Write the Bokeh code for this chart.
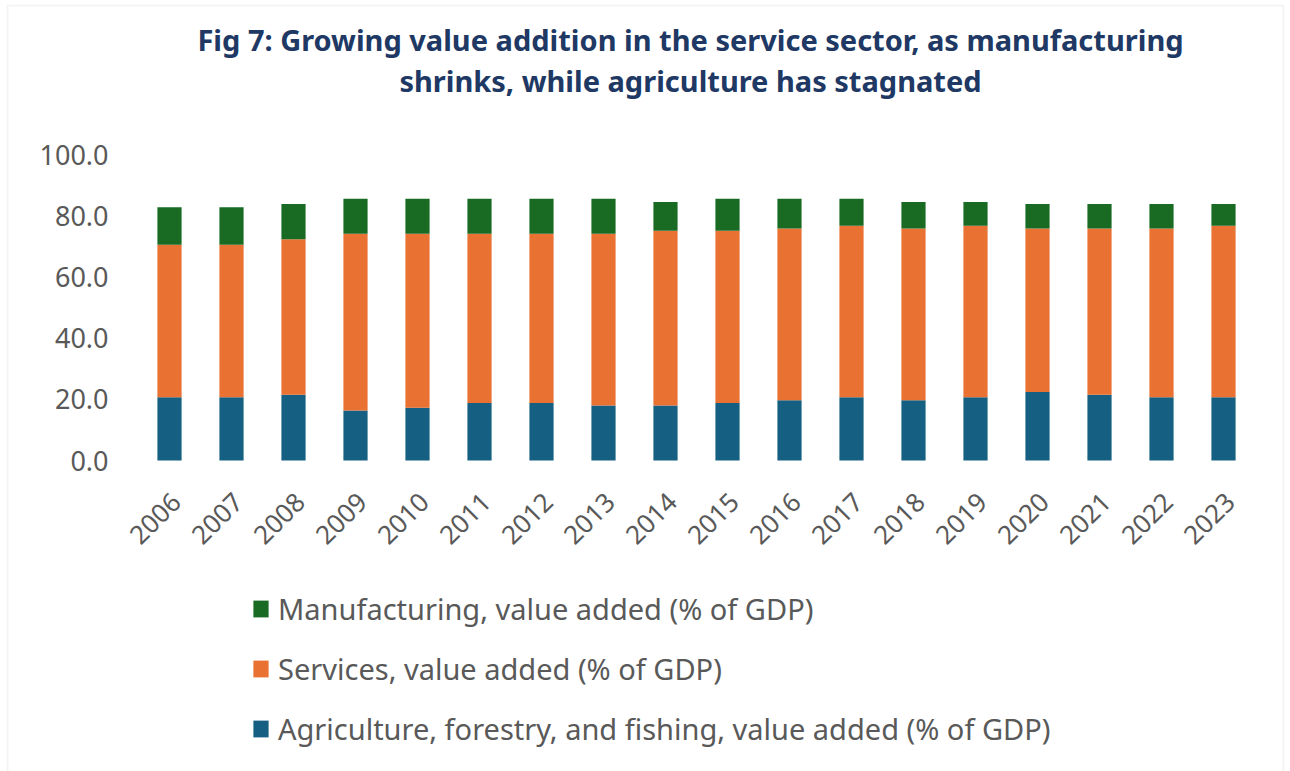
import math
from bokeh.plotting import figure
from bokeh.models import (Range1d, Legend, LegendItem, Label, FixedTicker,
                          BoxAnnotation)
from bokeh.core.properties import value
from bokeh.embed import file_html
from bokeh.resources import INLINE

years = [str(y) for y in range(2006, 2024)]
agriculture = [20.7, 20.7, 21.5, 16.3, 17.2, 18.8, 18.8, 18.0, 18.0,
               18.8, 19.7, 20.7, 19.7, 20.7, 22.4, 21.5, 20.7, 20.7]
services = [49.8, 49.8, 50.8, 57.8, 56.9, 55.3, 55.3, 56.1, 57.1,
            56.3, 56.1, 56.0, 56.1, 56.0, 53.4, 54.3, 55.1, 56.0]
manufacturing = [12.3, 12.3, 11.5, 11.4, 11.4, 11.4, 11.4, 11.4, 9.4,
                 10.4, 9.7, 8.8, 8.7, 7.8, 8.0, 8.0, 8.0, 7.1]
y_ticks = [0, 20, 40, 60, 80, 100]
y_tick_labels = ["0.0", "20.0", "40.0", "60.0", "80.0", "100.0"]
series_names = ["Agriculture, forestry, and fishing, value added (% of GDP)",
                "Services, value added (% of GDP)",
                "Manufacturing, value added (% of GDP)"]
title_lines = ["Fig 7: Growing value addition in the service sector, as manufacturing",
               "shrinks, while agriculture has stagnated"]
colors = ["#156082", "#E97132", "#196B24"]

FONT = "Noto Sans"
GREY = "#595959"
W, H = 1290, 771

# category positions along x (index of each year)
xs = list(range(len(years)))

# the frame fills the whole canvas; ranges chosen so that the plotting
# region sits where the reference draws it
px_per_cat = 62.0
first_px = 169.0
px_per_unit = 3.06
zero_px = 460.0
x_range = Range1d((0 - first_px) / px_per_cat, (W - first_px) / px_per_cat)
y_range = Range1d(-(H - zero_px) / px_per_unit, zero_px / px_per_unit)

p = figure(width=W, height=H, x_range=x_range, y_range=y_range,
           output_backend="svg", toolbar_location=None,
           x_axis_type=None, y_axis_type=None,
           min_border=0, min_border_left=0, min_border_right=0,
           min_border_top=0, min_border_bottom=0)
p.outline_line_color = None
p.background_fill_color = "white"
p.border_fill_color = "white"
p.xgrid.grid_line_color = None

# horizontal gridlines spanning the categories
p.ygrid.ticker = FixedTicker(ticks=y_ticks)
p.ygrid.grid_line_color = "#d9d9d9"
p.ygrid.grid_line_width = 1.5
p.ygrid.bounds = (-0.5, len(years) - 0.5)

data = dict(x=xs, year=years, agri=agriculture, serv=services, manu=manufacturing)
rs = p.vbar_stack(["agri", "serv", "manu"], x="x", width=0.39, color=colors,
                  line_color=None, source=data)

# y tick labels
p.text(x=[-0.5] * len(y_ticks), y=y_ticks, text=y_tick_labels,
       x_offset=-30, text_align="right", text_baseline="middle",
       text_font=value(FONT), text_font_size=value("27px"), text_color=GREY)

# x tick labels, rotated 45 degrees
p.text(x=xs, y=[0] * len(xs), text=years, angle=math.pi / 4,
       x_offset=7, y_offset=37, text_align="right", text_baseline="middle",
       text_font=value(FONT), text_font_size=value("26px"), text_color=GREY)

# title
for line, base in zip(title_lines, [39, 80]):
    p.add_layout(Label(x=690, y=H - base, x_units="screen", y_units="screen",
                       text=line, text_align="center",
                       text_baseline="alphabetic", text_font=FONT,
                       text_font_size="29px", text_font_style="bold",
                       text_color="#203864"))

items = [LegendItem(label=series_names[i], renderers=[rs[i]]) for i in (2, 1, 0)]
legend = Legend(items=items, location=(251, 23), padding=0, margin=0,
                spacing=21, label_height=30, glyph_width=19, glyph_height=21,
                label_standoff=8, border_line_color=None,
                background_fill_alpha=0, label_text_font=FONT,
                label_text_font_size="29px", label_text_color=GREY)
p.add_layout(legend, "center")

border = BoxAnnotation(left=7, right=1283, top=H - 5, bottom=-10,
                       left_units="screen", right_units="screen",
                       top_units="screen", bottom_units="screen",
                       fill_alpha=0, line_color="#d9d9d9", line_width=2)
p.add_layout(border)

open("out.html", "w").write(file_html(p, INLINE))
